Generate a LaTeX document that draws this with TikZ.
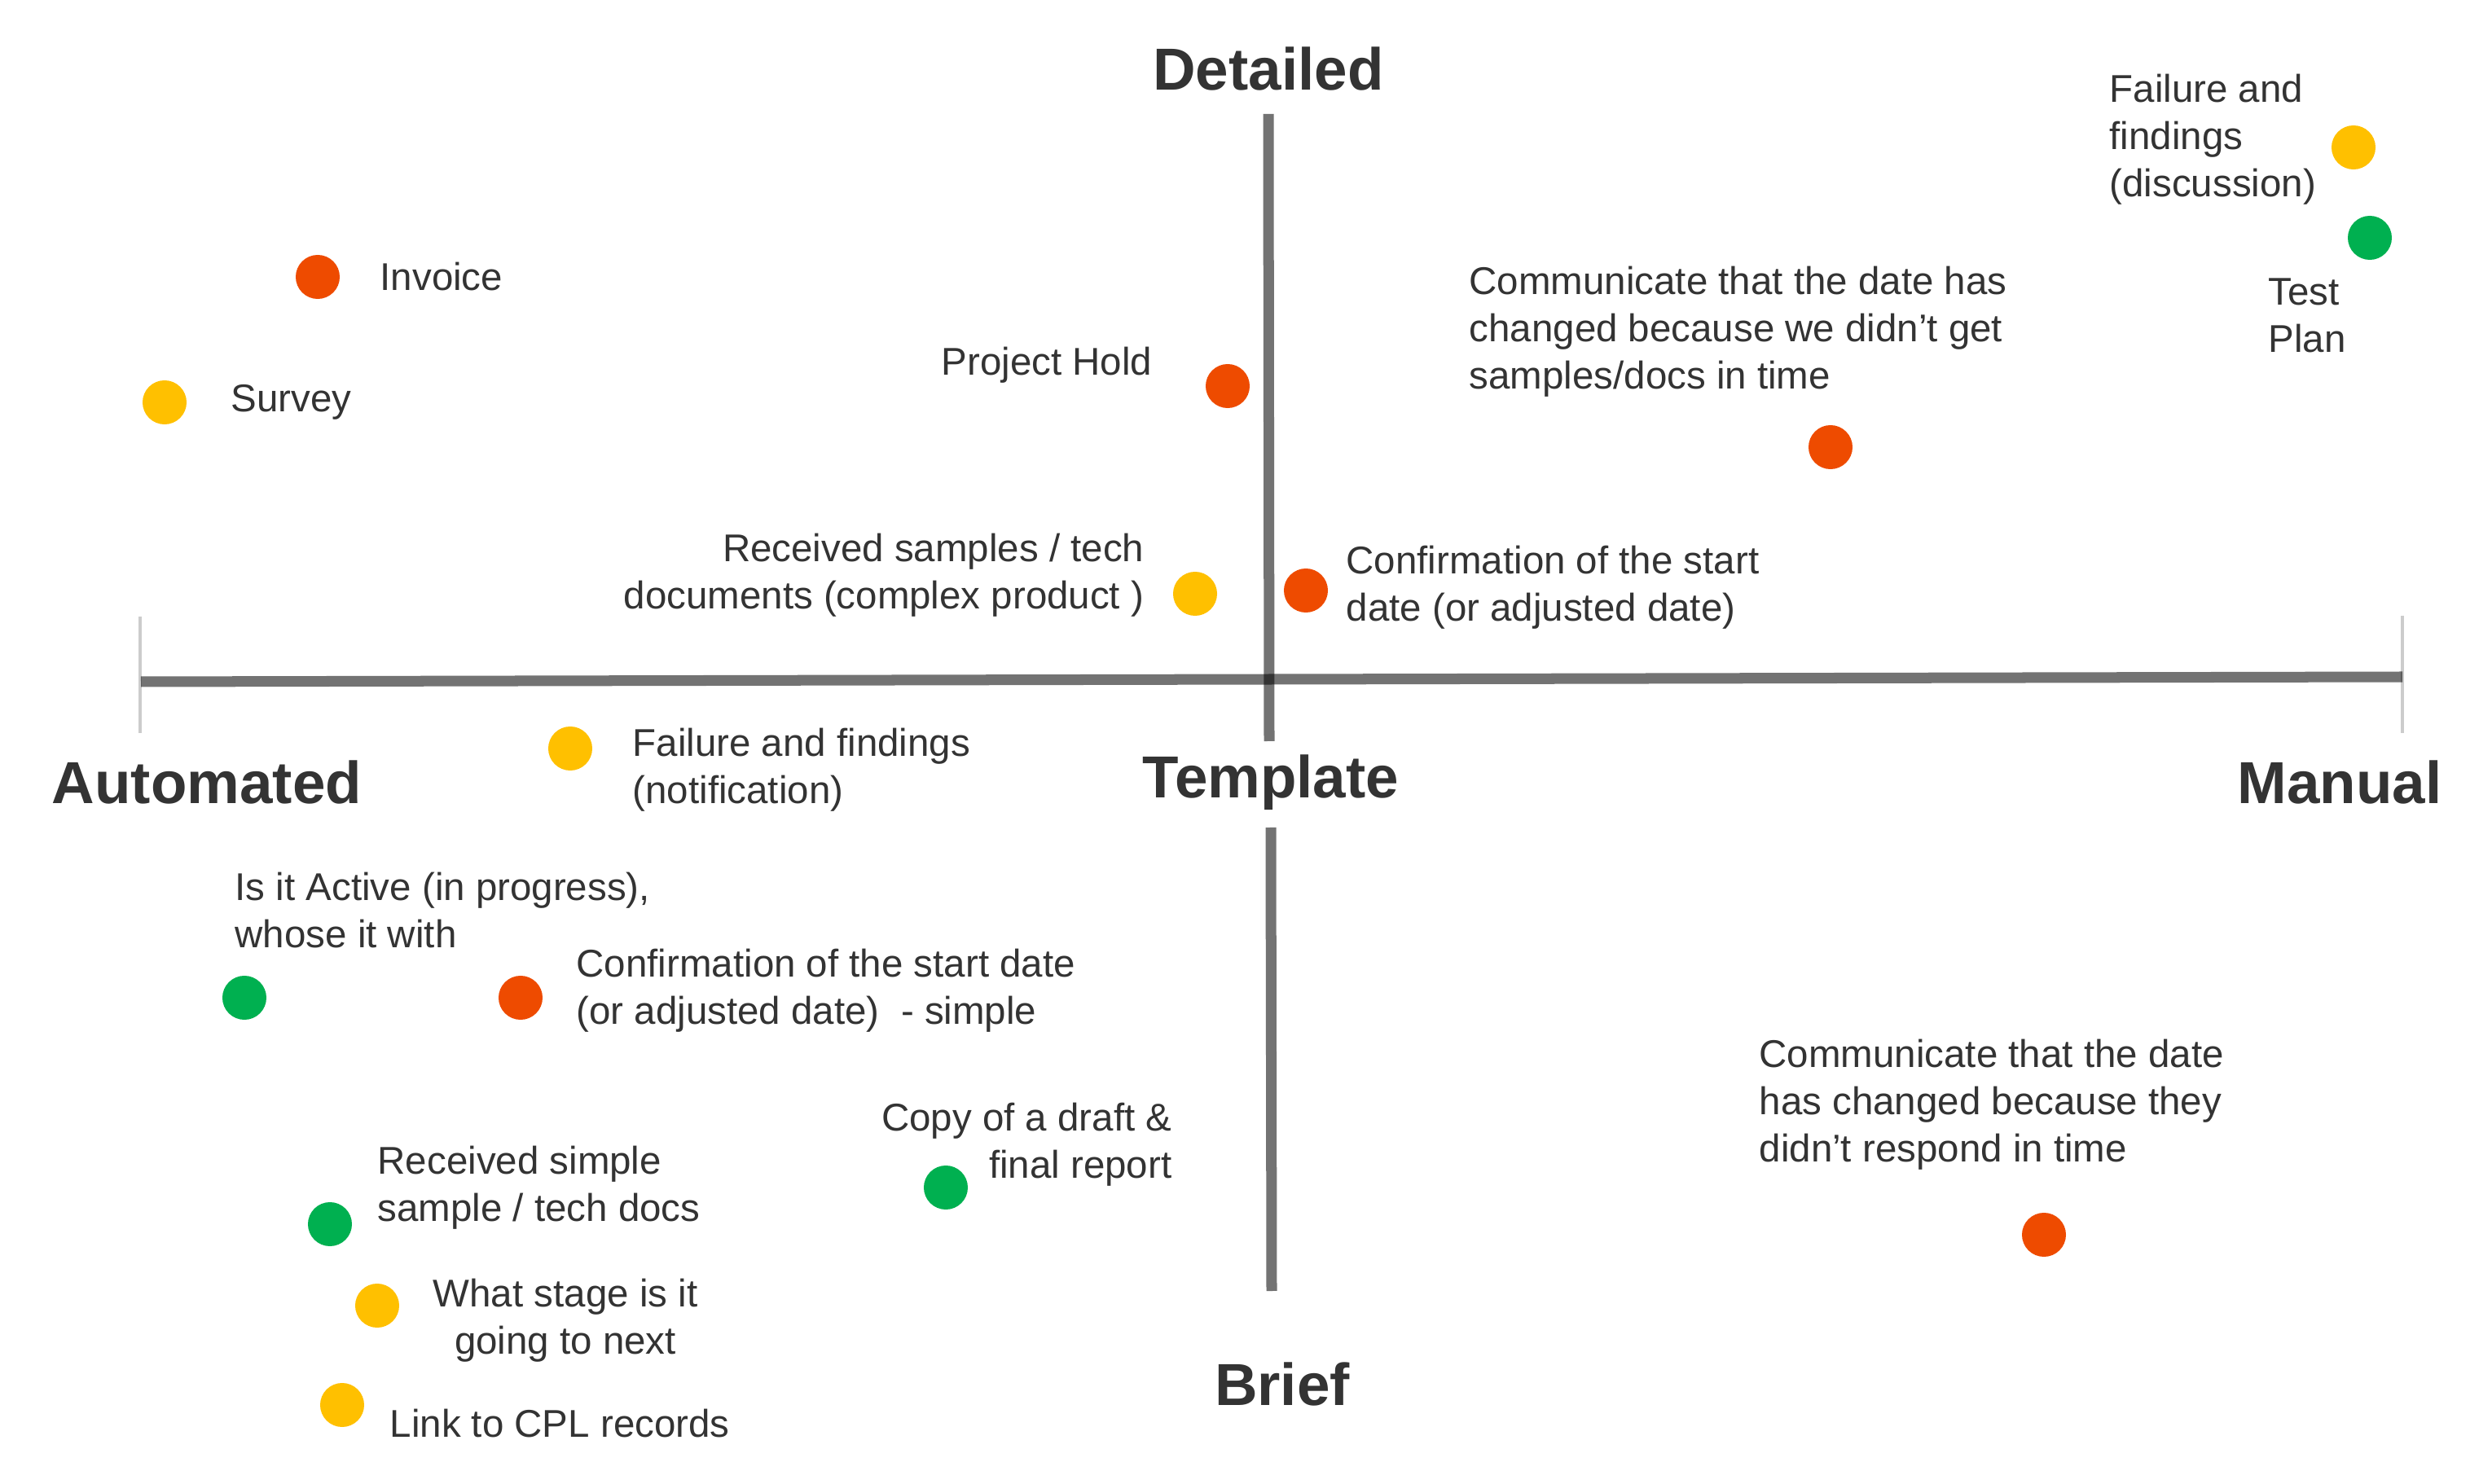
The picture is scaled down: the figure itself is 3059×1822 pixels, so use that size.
\documentclass[tikz,border=0pt]{standalone}
\usepackage{fontspec}
\setmainfont{Liberation Sans}
\definecolor{cRed}{HTML}{EE4B00}
\definecolor{cYel}{HTML}{FFC000}
\definecolor{cGrn}{HTML}{00B050}
\definecolor{txt}{HTML}{333333}
\begin{document}
\begin{tikzpicture}[x=0.01cm,y=-0.01cm,
  dot/.style={circle,minimum size=0.54cm,inner sep=0pt,draw=none},
  lbl/.style={inner sep=0pt,text=txt,font=\fontsize{13.5}{16.5}\selectfont},
  axlbl/.style={inner sep=0pt,text=txt,font=\fontsize{20.7}{24}\selectfont\bfseries},
  axis/.style={draw=black,draw opacity=0.55,line width=0.13cm},
  tick/.style={draw=black!20,line width=0.04cm}]
\useasboundingbox[fill=white] (0,0) rectangle (3059,1822);
% axes
\coordinate (hl) at (173,837);
\coordinate (hr) at (2949,831);
\coordinate (vt) at (1557,140);
\coordinate (vm) at (1558,910);
\coordinate (vb1) at (1560,1016);
\coordinate (vb2) at (1561,1585);
\coordinate (tl1) at (172,757);
\coordinate (tl2) at (172,900);
\coordinate (tr1) at (2949,756);
\coordinate (tr2) at (2949,900);
\draw[tick] (tl1) -- (tl2);
\draw[tick] (tr1) -- (tr2);
\draw[axis] (hl) -- (hr);
\draw[axis] (vt) -- (vm);
\draw[axis] (vb1) -- (vb2);
% axis labels
\node[axlbl] (detailed) at (1557,84) {Detailed};
\node[axlbl] (automated) at (254,960) {Automated};
\node[axlbl] (template) at (1560,961) {Template};
\node[axlbl] (manual) at (2872,960) {Manual};
\node[axlbl] (brief) at (1574,1699) {Brief};
% dots
\node[dot,fill=cRed] (invoice) at (390,340) {};
\node[dot,fill=cYel] (survey) at (202,494) {};
\node[dot,fill=cRed] (hold) at (1507,474) {};
\node[dot,fill=cYel] (recv) at (1467,729) {};
\node[dot,fill=cRed] (confirm) at (1603,725) {};
\node[dot,fill=cRed] (commwe) at (2247,549) {};
\node[dot,fill=cYel] (faildisc) at (2889,181) {};
\node[dot,fill=cGrn] (testplan) at (2909,292) {};
\node[dot,fill=cYel] (failnot) at (700,919) {};
\node[dot,fill=cGrn] (active) at (300,1225) {};
\node[dot,fill=cRed] (confsimple) at (639,1225) {};
\node[dot,fill=cGrn] (draft) at (1161,1458) {};
\node[dot,fill=cGrn] (recvsimple) at (405,1503) {};
\node[dot,fill=cYel] (stage) at (463,1603) {};
\node[dot,fill=cYel] (cpl) at (420,1725) {};
\node[dot,fill=cRed] (commthey) at (2509,1516) {};
% labels
\node[lbl,anchor=west] (tInvoice) at (466,340) {Invoice};
\node[lbl,anchor=west] (tSurvey) at (283,494) {Survey};
\node[lbl,anchor=east] (tHold) at (1415,448) {Project Hold};
\node[lbl,anchor=east,align=right] (tRecv) at (1405,706) {Received samples / tech\\documents (complex product )};
\node[lbl,anchor=west,align=left] (tConfirm) at (1652,721) {Confirmation of the start\\date (or adjusted date)};
\node[lbl,anchor=west,align=left] (tCommWe) at (1803,407) {Communicate that the date has\\changed because we didn’t get\\samples/docs in time};
\node[lbl,anchor=west,align=left] (tFailDisc) at (2589,171) {Failure and\\findings\\(discussion)};
\node[lbl,anchor=west,align=left] (tTest) at (2784,387) {Test\\Plan};
\node[lbl,anchor=west,align=left] (tFailNot) at (776,945) {Failure and findings\\(notification)};
\node[lbl,anchor=west,align=left] (tActive) at (288,1118) {Is it Active (in progress),\\whose it with};
\node[lbl,anchor=west,align=left] (tConfSimple) at (707,1216) {Confirmation of the start date\\(or adjusted date) \ - simple};
\node[lbl,anchor=east,align=right] (tDraft) at (1439,1405) {Copy of a draft \&\\final report};
\node[lbl,anchor=west,align=left] (tRecvSimple) at (463,1458) {Received simple\\sample / tech docs};
\node[lbl,align=center] (tStage) at (694,1621) {What stage is it\\going to next};
\node[lbl,anchor=west] (tCpl) at (478,1748) {Link to CPL records};
\node[lbl,anchor=west,align=left] (tCommThey) at (2159,1356) {Communicate that the date\\has changed because they\\didn’t respond in time};
\end{tikzpicture}
\end{document}
